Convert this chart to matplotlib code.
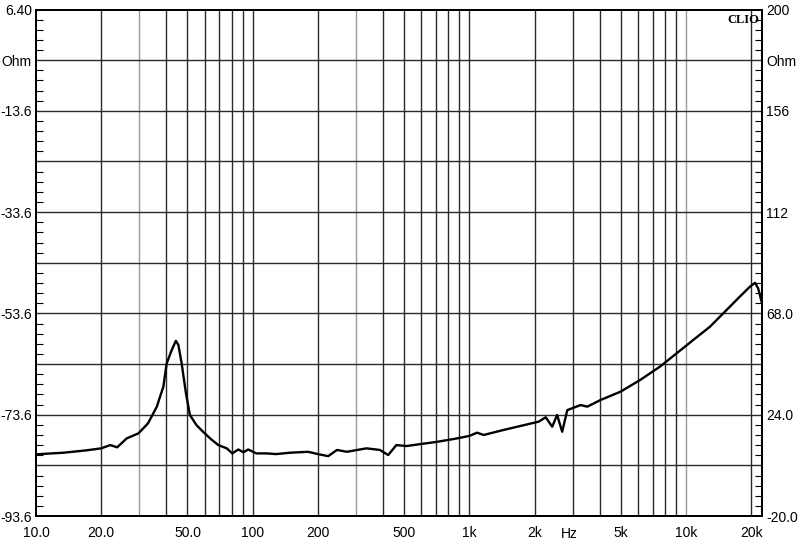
import matplotlib
matplotlib.use("Agg")
import matplotlib.pyplot as plt
from matplotlib.ticker import FixedLocator, FixedFormatter, NullFormatter

plt.rcParams['font.family'] = ['Liberation Sans', 'DejaVu Sans']

# impedance curve (Hz, Ohm on the right-hand scale)
freq = [10, 13.4, 17, 20, 22, 23.7, 26.2, 29.7, 32.9, 36.1, 38.7, 40.1, 42.3,
        44.2, 45.4, 47.0, 49.2, 51.3, 55, 59.0, 64, 69.4, 75.9, 80.5, 85.8,
        90.6, 95.3, 104, 116, 128, 149, 180, 200, 223, 245, 272, 335, 386,
        422, 460, 513, 600, 707, 875, 1000, 1085, 1163, 1440, 1847, 2090,
        2250, 2410, 2540, 2680, 2830, 2980, 3260, 3500, 4030, 4980, 6140,
        7580, 9050, 10800, 12880, 15380, 17700, 19700, 20800, 21500, 22400]
ohm = [6.8, 7.5, 8.5, 9.4, 10.8, 9.85, 13.7, 15.9, 20.3, 27.5, 36.2, 46.3, 52.1,
       56.1, 54.3, 46.3, 33.3, 23.9, 19.5, 16.6, 13.5, 10.8, 9.4, 7.2, 8.9,
       7.7, 8.9, 7.2, 7.2, 6.9, 7.5, 7.9, 6.9, 6.0, 8.7, 7.9, 9.4, 8.7,
       6.5, 10.8, 10.4, 11.3, 12.2, 13.7, 14.8, 16.2, 15.2, 17.4, 19.8, 21.0,
       22.9, 18.8, 23.9, 16.6, 26.0, 26.8, 28.2, 27.5, 30.4, 34.0, 39.1,
       44.9, 50.7, 56.5, 62.2, 69.5, 75.3, 79.6, 81.3, 78.9, 72.4]

x_ticks = [10, 20, 50, 100, 200, 500, 1000, 2000, 5000, 10000, 20000]
x_labels = ["10.0", "20.0", "50.0", "100", "200", "500", "1k", "2k", "5k", "10k", "20k"]

left_ticks = [6.4 - 10 * i for i in range(11)]
left_labels = ["6.40", "Ohm", "-13.6", "", "-33.6", "", "-53.6", "", "-73.6", "", "-93.6"]
right_ticks = [200 - 22 * i for i in range(11)]
right_labels = ["200", "Ohm", "156", "", "112", "", "68.0", "", "24.0", "", "-20.0"]

XMIN, XMAX = 10, 22400

fig = plt.figure(figsize=(8, 5.4), dpi=100)
ax = fig.add_axes((0.045, 0.0444, 0.9075, 0.938))
ax.set_xscale("log")
ax.set_xlim(XMIN, XMAX)
ax.set_ylim(-93.6, 6.4)

# vertical grid: every 1..9 multiple per decade
for dec in [10, 100, 1000, 10000]:
    for m in range(1, 10):
        f = dec * m
        if f <= XMIN or f >= XMAX:
            continue
        c = "#9a9a9a" if f in (30, 300, 10000) else "#2a2a2a"
        ax.axvline(f, color=c, lw=1.0, zorder=1)
for y in left_ticks[1:-1]:
    ax.axhline(y, color="#2a2a2a", lw=1.0, zorder=1)

ax.set_yticks(left_ticks)
ax.set_yticklabels(left_labels)
ax.yaxis.set_minor_locator(FixedLocator([6.4 - 2 * i for i in range(51)]))
ax.tick_params(axis="y", which="major", length=0, pad=3, labelsize=10)
ax.tick_params(axis="y", which="minor", direction="in", length=5, width=0.8)

ax2 = ax.twinx()
ax2.set_ylim(-20, 200)
ax2.set_yticks(right_ticks)
ax2.set_yticklabels(right_labels)
ax2.yaxis.set_minor_locator(FixedLocator([200 - 4.4 * i for i in range(51)]))
ax2.tick_params(axis="y", which="major", length=0, pad=3, labelsize=10)
ax2.tick_params(axis="y", which="minor", direction="in", length=5, width=0.8)

ax2.plot(freq, ohm, color="black", lw=1.7, zorder=3)
ax.set_xlim(XMIN, XMAX)

# x ticks set after the twin so they are not reset
ax.xaxis.set_major_locator(FixedLocator(x_ticks))
ax.xaxis.set_major_formatter(FixedFormatter(x_labels))
ax.xaxis.set_minor_locator(FixedLocator([]))
ax.xaxis.set_minor_formatter(NullFormatter())
ax.tick_params(axis="x", which="both", length=0, pad=7, labelsize=10)
ax2.tick_params(axis="x", which="both", length=0, labelbottom=False)

for a in (ax, ax2):
    for s in a.spines.values():
        s.set_linewidth(1.4)
        s.set_color("black")

ax.text(0.735, -0.021, "Hz", transform=ax.transAxes, ha="center", va="top", fontsize=10)
ax.text(0.9965, 0.992, "CLIO", transform=ax.transAxes, ha="right", va="top",
        fontsize=9, fontweight="bold", family=["Liberation Serif", "DejaVu Serif"])

fig.savefig("out.png", dpi=100)
